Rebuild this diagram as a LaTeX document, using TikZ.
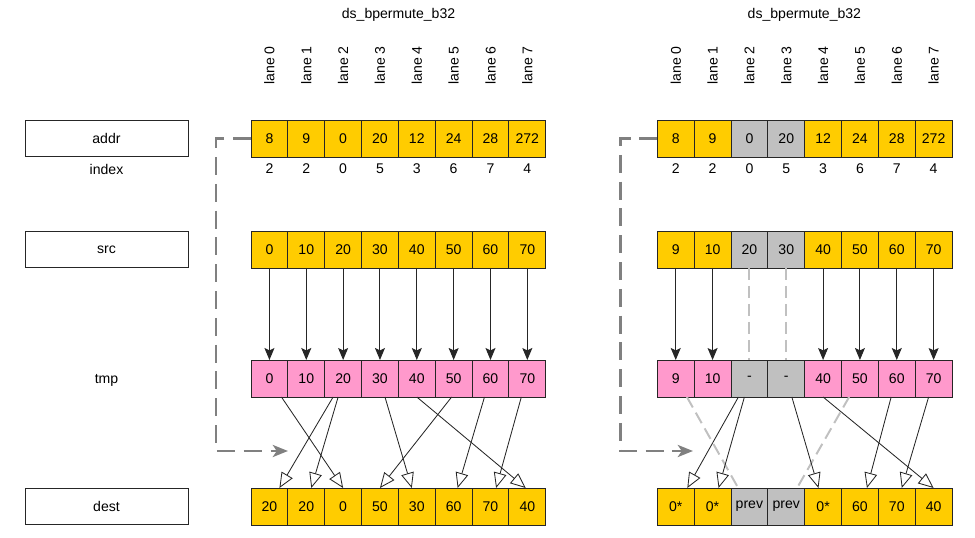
\documentclass[tikz,border=0pt]{standalone}
\usepackage{fontspec}
\setmainfont{Liberation Sans}
\usepackage{xcolor}
\usepackage{tikz}
\usetikzlibrary{arrows.meta,positioning}
\definecolor{laneyellow}{HTML}{FFCC00}
\definecolor{lanepink}{HTML}{FF99CC}
\definecolor{lanegray}{HTML}{C0C0C0}
\definecolor{selgray}{HTML}{808080}
\tikzset{
	cell/.style={draw=black!85,line width=0.7pt,minimum width=0.921cm,minimum height=0.925cm,inner sep=0pt,outer sep=0pt},
	regbox/.style={draw=black!85,line width=0.7pt,minimum width=4.075cm,minimum height=0.9cm,inner sep=0pt},
	lanelabel/.style={rotate=90,anchor=west,inner sep=0pt},
	movearrow/.style={-{Stealth[length=0.3cm,width=0.25cm,inset=0.06cm]},line width=0.7pt,black!85},
	permarrow/.style={-{Triangle[open,length=0.38cm,width=0.32cm]},line width=0.6pt,black!85},
	offline/.style={lanegray,line width=1.4pt,dash pattern=on 0.3cm off 0.15cm},
	selline/.style={selgray,line width=2.1pt,dash pattern=on 0.45cm off 0.22cm,-{Stealth[length=0.38cm,width=0.3cm,inset=0.1cm]}}
}

\begin{document}
\begin{tikzpicture}[font=\fontsize{10}{12}\selectfont]
	\useasboundingbox (0,0) rectangle (24.375,13.425);
	% register names
	\node[regbox] (addr) at (2.6625,9.9625) {addr};
	\node (index) at (2.6625,9.2) {index};
	\node[regbox] (src) at (2.6625,7.1875) {src};
	\node (tmp) at (2.6625,3.925) {tmp};
	\node[regbox] (dest) at (2.6625,0.7625) {dest};

	% left: all lanes active
	\node (Ltitle) at (9.9625,13.05) {ds\_bpermute\_b32};
	\foreach \v [count=\i from 0] in {8,9,0,20,12,24,28,272}
	{
		\node[lanelabel] at ({6.736+0.921*\i},11.3) {lane \i};
		\node[cell,fill=laneyellow] (La\i) at ({6.736+0.921*\i},9.9625) {\v};
	}
	\foreach \v [count=\i from 0] in {2,2,0,5,3,6,7,4}
		\node (Li\i) at ({6.736+0.921*\i},9.2) {\v};
	\foreach \v [count=\i from 0] in {0,10,20,30,40,50,60,70}
	{
		\node[cell,fill=laneyellow] (Ls\i) at ({6.736+0.921*\i},7.1875) {\v};
		\node[cell,fill=lanepink] (Lt\i) at ({6.736+0.921*\i},3.9625) {\v};
		\draw[movearrow] (Ls\i.south) -- (Lt\i.north);
	}
	\foreach \v [count=\i from 0] in {20,20,0,50,30,60,70,40}
		\node[cell,fill=laneyellow] (Ld\i) at ({6.736+0.921*\i},0.7625) {\v};
	\foreach \s/\d/\a/\b in {2/0/-0.25/0.25,2/1/-0.125/0.125,0/2/0.3/0,5/3/-0.05/0,3/4/0.125/-0.125,6/5/-0.15/0.1,7/6/-0.15/0.14,4/7/0/-0.04}
		\draw[permarrow] ([xshift=\a cm]Lt\s.south) -- ([xshift=\b cm]Ld\d.north);
	\coordinate (Lin) at (7.2,2.15);
	\draw[selline] (La0.west) -- ++(-0.875,0) |- (Lin);

	% right: lanes 2 and 3 inactive
	\node (Rtitle) at (20.11,13.05) {ds\_bpermute\_b32};
	\foreach \v/\c [count=\i from 0] in {8/laneyellow,9/laneyellow,0/lanegray,20/lanegray,12/laneyellow,24/laneyellow,28/laneyellow,272/laneyellow}
	{
		\node[lanelabel] at ({16.893+0.921*\i},11.3) {lane \i};
		\node[cell,fill=\c] (Ra\i) at ({16.893+0.921*\i},9.9625) {\v};
	}
	\foreach \v [count=\i from 0] in {2,2,0,5,3,6,7,4}
		\node (Ri\i) at ({16.893+0.921*\i},9.2) {\v};
	\foreach \v/\w/\c/\e [count=\i from 0] in {9/9/laneyellow/lanepink,10/10/laneyellow/lanepink,20/-/lanegray/lanegray,30/-/lanegray/lanegray,40/40/laneyellow/lanepink,50/50/laneyellow/lanepink,60/60/laneyellow/lanepink,70/70/laneyellow/lanepink}
	{
		\node[cell,fill=\c] (Rs\i) at ({16.893+0.921*\i},7.1875) {\v};
		\node[cell,fill=\e] (Rt\i) at ({16.893+0.921*\i},3.9625) {\w};
	}
	\foreach \i in {0,1,4,5,6,7}
		\draw[movearrow] (Rs\i.south) -- (Rt\i.north);
	\foreach \i in {2,3}
		\draw[offline] (Rs\i.south) -- (Rt\i.north);
	\foreach \v/\c [count=\i from 0] in {0*/laneyellow,0*/laneyellow,prev/lanegray,prev/lanegray,0*/laneyellow,60/laneyellow,70/laneyellow,40/laneyellow}
		\node[cell,fill=\c] (Rd\i) at ({16.893+0.921*\i},0.7625) {\v};
	\draw[offline] ([xshift=0.28cm]Rt0.south) -- ([xshift=-0.28cm]Rd2.north);
	\draw[offline] ([xshift=-0.27cm]Rt5.south) -- ([xshift=0.27cm]Rd3.north);
	\foreach \s/\d/\a/\b in {2/0/-0.275/0.29,2/1/-0.125/0.15,3/4/0.14/-0.115,6/5/-0.14/0.175,7/6/-0.125/0.125,4/7/0/0}
		\draw[permarrow] ([xshift=\a cm]Rt\s.south) -- ([xshift=\b cm]Rd\d.north);
	\coordinate (Rin) at (17.325,2.15);
	\draw[selline] (Ra0.west) -- ++(-0.93,0) |- (Rin);
\end{tikzpicture}
\end{document}
